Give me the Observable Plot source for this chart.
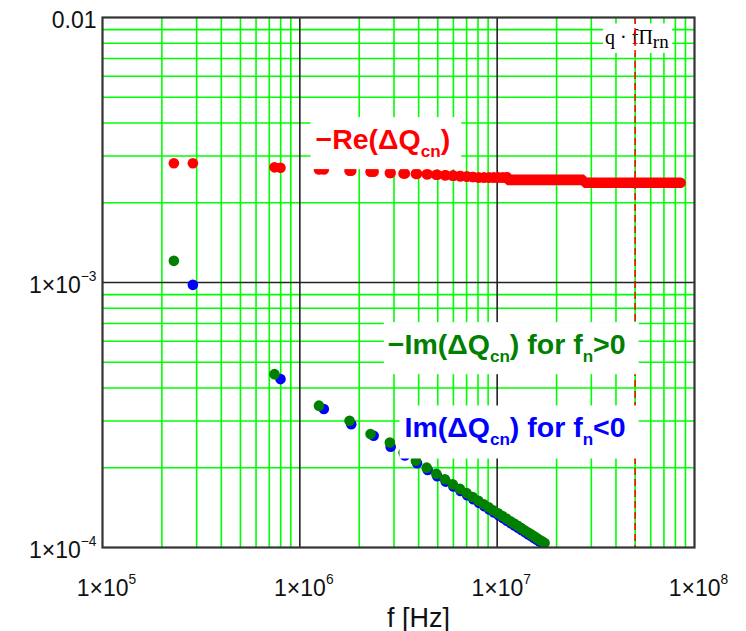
<!DOCTYPE html>
<html>
<head>
<meta charset="utf-8">
<script src="https://cdn.jsdelivr.net/npm/d3@7"></script>
<script src="https://cdn.jsdelivr.net/npm/@observablehq/plot@0.6"></script>
<style>
  body { margin: 0; background: #fff; }
  svg { display: block; }
</style>
</head>
<body>
<div id="chart"></div>
<script>
// Sideband frequencies (MHz) and tune shifts of the coherent modes.
// −Im(ΔQcn) for fn > 0, in units of 1e-4
const fPosMHz = [0.230, 0.744, 1.250, 1.786, 2.282, 2.859, 3.354, 3.874, 4.394, 4.914, 5.434, 5.954, 6.474, 6.994, 7.514, 8.034, 8.554, 9.074, 9.594, 10.114, 10.634, 11.154, 11.674, 12.194, 12.714, 13.234, 13.754, 14.274, 14.794, 15.314, 15.834, 16.354, 16.874, 17.394];
const imPos = [12.07, 4.51, 3.43, 3.01, 2.68, 2.49, 2.276, 2.125, 2.001, 1.897, 1.809, 1.732, 1.664, 1.604, 1.550, 1.501, 1.457, 1.417, 1.380, 1.346, 1.314, 1.284, 1.257, 1.231, 1.207, 1.184, 1.162, 1.142, 1.123, 1.104, 1.087, 1.070, 1.055, 1.040];

// Im(ΔQcn) for fn < 0, in units of 1e-4
const fNegMHz = [0.287, 0.798, 1.323, 1.822, 2.366, 2.886, 3.406, 3.926, 4.446, 4.966, 5.486, 6.006, 6.526, 7.046, 7.566, 8.086, 8.606, 9.126, 9.646, 10.166, 10.686, 11.206, 11.726, 12.246, 12.766, 13.286, 13.806, 14.326, 14.846, 15.366, 15.886, 16.406, 16.926];
const imNeg = [9.80, 4.32, 3.33, 2.92, 2.64, 2.40, 2.226, 2.080, 1.960, 1.859, 1.773, 1.698, 1.633, 1.574, 1.522, 1.474, 1.431, 1.391, 1.355, 1.323, 1.291, 1.262, 1.235, 1.210, 1.186, 1.165, 1.143, 1.122, 1.104, 1.087, 1.069, 1.053, 1.037];

// −Re(ΔQcn) at the lower sidebands, in units of 1e-3
const reFMHz = [0.230, 0.287, 0.744, 0.798, 1.250, 1.323, 1.786, 1.822, 2.282, 2.366, 2.859, 2.886, 3.354, 3.406, 3.874, 3.926, 4.394, 4.446, 4.914, 4.966, 5.434, 5.486, 5.954, 6.006, 6.474, 6.526, 6.994, 7.046, 7.514, 7.566, 8.034, 8.086, 8.554, 8.606, 9.074, 9.126, 9.594, 9.646, 10.114, 10.166, 10.634, 10.686, 11.154, 11.206];
const reVal = [2.82, 2.82, 2.72, 2.71, 2.67, 2.67, 2.64, 2.64, 2.62, 2.62, 2.59, 2.59, 2.58, 2.58, 2.57, 2.57, 2.56, 2.56, 2.55, 2.55, 2.54, 2.54, 2.53, 2.53, 2.52, 2.52, 2.51, 2.51, 2.50, 2.50, 2.49, 2.49, 2.49, 2.49, 2.49, 2.49, 2.49, 2.49, 2.49, 2.49, 2.49, 2.49, 2.49, 2.49];

// −Re(ΔQcn) where the sidebands merge into a continuous band, units of 1e-3
const reBandFMHz = [11.2, 11.25, 27.5, 27.55, 85];
const reBandVal = [2.49, 2.44, 2.44, 2.38, 2.38];

// marker frequency q·fΠrn
const markerHz = [5e7];

// grid
const xMajor = [1e6, 1e7];
const xMinor = [2e5, 3e5, 4e5, 5e5, 6e5, 7e5, 8e5, 9e5, 2e6, 3e6, 4e6, 5e6, 6e6, 7e6, 8e6, 9e6, 2e7, 3e7, 4e7, 5e7, 6e7, 7e7, 8e7, 9e7];
const yMajor = [1e-3];
const yMinor = [2e-4, 3e-4, 4e-4, 5e-4, 6e-4, 7e-4, 8e-4, 9e-4, 2e-3, 3e-3, 4e-3, 5e-3, 6e-3, 7e-3, 8e-3, 9e-3];

// tick labels (^{..} superscript, _{..} subscript)
const xTickValues = [1e5, 1e6, 1e7, 1e8];
const xTickLabels = ["1×10^{5}", "1×10^{6}", "1×10^{7}", "1×10^{8}"];
const yTickValues = [1e-4, 1e-3, 1e-2];
const yTickLabels = ["1×10^{−4}", "1×10^{−3}", "0.01"];

const reLabel = "−Re(ΔQ_{cn})";
const imPosLabel = "−Im(ΔQ_{cn}) for f_{n}>0";
const imNegLabel = "Im(ΔQ_{cn}) for f_{n}<0";
const markerLabel = "q · fΠ_{rn}";
const xLabel = "f [Hz]";

const pos = fPosMHz.map((f, i) => ({f: f * 1e6, v: imPos[i] * 1e-4}));
const neg = fNegMHz.map((f, i) => ({f: f * 1e6, v: imNeg[i] * 1e-4}));
const re = reFMHz.map((f, i) => ({f: f * 1e6, v: reVal[i] * 1e-3}));
const reBand = reBandFMHz.map((f, i) => ({f: f * 1e6, v: reBandVal[i] * 1e-3}));

const RED = "#ff0000", GREEN = "#008000", BLUE = "#0000ff", GRID = "#00ff00";
const SANS = "Liberation Sans, Arial, sans-serif";
const SERIF = "Liberation Serif, Times New Roman, serif";
const LABEL = {textAnchor: "end", lineAnchor: "bottom", fontSize: 28.5, fontWeight: "bold", fontFamily: SANS};
const R = 5.3;

const svg = Plot.plot({
  width: 746,
  height: 631,
  marginLeft: 102,
  marginRight: 52,
  marginTop: 17,
  marginBottom: 84,
  x: {type: "log", domain: [1e5, 1e8], axis: null},
  y: {type: "log", domain: [1e-4, 1e-2], axis: null},
  style: {background: "#fff", overflow: "visible"},
  marks: [
    Plot.ruleX(xMinor, {x: d => d, stroke: GRID, strokeWidth: 1.6}),
    Plot.ruleY(yMinor, {y: d => d, stroke: GRID, strokeWidth: 1.6}),
    Plot.ruleX(xMajor, {x: d => d, stroke: "#222", strokeWidth: 1.6}),
    Plot.ruleY(yMajor, {y: d => d, stroke: "#222", strokeWidth: 1.6}),
    Plot.text([markerLabel], {x: markerHz[0], frameAnchor: "top", text: d => d, textAnchor: "start", lineAnchor: "bottom", dx: -30, dy: 26, fontFamily: SERIF, fontSize: 20, fill: "#000"}),
    Plot.ruleX(markerHz, {x: d => d, stroke: RED, strokeWidth: 1.5, strokeDasharray: "7,4"}),
    Plot.dot(neg, {x: "f", y: "v", r: R, fill: BLUE, clip: true}),
    Plot.dot(pos, {x: "f", y: "v", r: R, fill: GREEN, clip: true}),
    Plot.line(reBand, {x: "f", y: "v", stroke: RED, strokeWidth: 2 * R, strokeLinecap: "round", strokeLinejoin: "miter", clip: true}),
    Plot.dot(re, {x: "f", y: "v", r: R, fill: RED, clip: true}),
    Plot.text([reLabel], {...LABEL, x: 1.201e6, y: 3.187e-3, text: d => d, textAnchor: "start", fill: RED}),
    Plot.text([imPosLabel], {...LABEL, x: 4.476e7, y: 5.366e-4, text: d => d, fill: GREEN}),
    Plot.text([imNegLabel], {...LABEL, x: 4.476e7, y: 2.601e-4, text: d => d, fill: BLUE}),
    Plot.frame({stroke: "#333", strokeWidth: 2.2}),
    Plot.text(xTickValues, {x: d => d, frameAnchor: "bottom", text: (d, i) => xTickLabels[i], textAnchor: "middle", lineAnchor: "bottom", dx: 4, dy: 48, fontSize: 23, fontFamily: SANS, fill: "#111"}),
    Plot.text(yTickValues, {y: d => d, frameAnchor: "left", text: (d, i) => yTickLabels[i], textAnchor: "end", lineAnchor: "bottom", dx: -6, dy: 10, fontSize: 23, fontFamily: SANS, fill: "#111"}),
    Plot.text([xLabel], {frameAnchor: "bottom", text: d => d, textAnchor: "middle", lineAnchor: "bottom", dx: 20, dy: 79, fontSize: 27, fontFamily: SANS, fill: "#111"})
  ]
});

document.getElementById("chart").append(svg);

// white backing boxes for the trace labels and the marker label
const boxed = new Map([
  [reLabel, [5, 11, 6, 8]],
  [imPosLabel, [4, 13, 6, 8]],
  [imNegLabel, [5, 13, 6, 9]],
  [markerLabel, [2, 3, 2, 1]]
]);
// subscript size relative to the parent text
const subScale = new Map([[markerLabel, 0.95]]);
const NS = "http://www.w3.org/2000/svg";
const texts = Array.from(svg.querySelectorAll("text"));
const pads = new Map();
texts.forEach(t => { if (boxed.has(t.textContent)) pads.set(t, boxed.get(t.textContent)); });

// turn _{..} and ^{..} into subscript / superscript tspans
texts.forEach(t => {
  const s = t.textContent;
  if (!/[_^]\{/.test(s)) return;
  const fs = parseFloat(getComputedStyle(t).fontSize);
  const small = (fs * (subScale.get(s) || 0.6)).toFixed(1);
  const shiftOf = {"_": (subScale.has(s) ? 0.22 : 0.28) * fs, "^": -0.52 * fs};
  t.textContent = "";
  let shift = 0;
  const add = (str, off, size) => {
    const ts = document.createElementNS(NS, "tspan");
    const dy = off - shift;
    if (dy) ts.setAttribute("dy", dy.toFixed(1));
    if (size) ts.setAttribute("font-size", size);
    ts.textContent = str;
    t.append(ts);
    shift = off;
  };
  const rx = /([_^])\{([^}]*)\}/g;
  let last = 0, m;
  while ((m = rx.exec(s))) {
    if (m.index > last) add(s.slice(last, m.index), 0);
    add(m[2], shiftOf[m[1]], small);
    last = rx.lastIndex;
  }
  if (last < s.length) add(s.slice(last), 0);
});

pads.forEach(([l, r, t, b], el) => {
  const bb = el.getBBox();
  const rect = document.createElementNS(NS, "rect");
  rect.setAttribute("x", bb.x - l);
  rect.setAttribute("y", bb.y - t);
  rect.setAttribute("width", bb.width + l + r);
  rect.setAttribute("height", bb.height + t + b);
  rect.setAttribute("fill", "#fff");
  if (el.getAttribute("transform")) rect.setAttribute("transform", el.getAttribute("transform"));
  el.parentNode.insertBefore(rect, el);
});
</script>
</body>
</html>
